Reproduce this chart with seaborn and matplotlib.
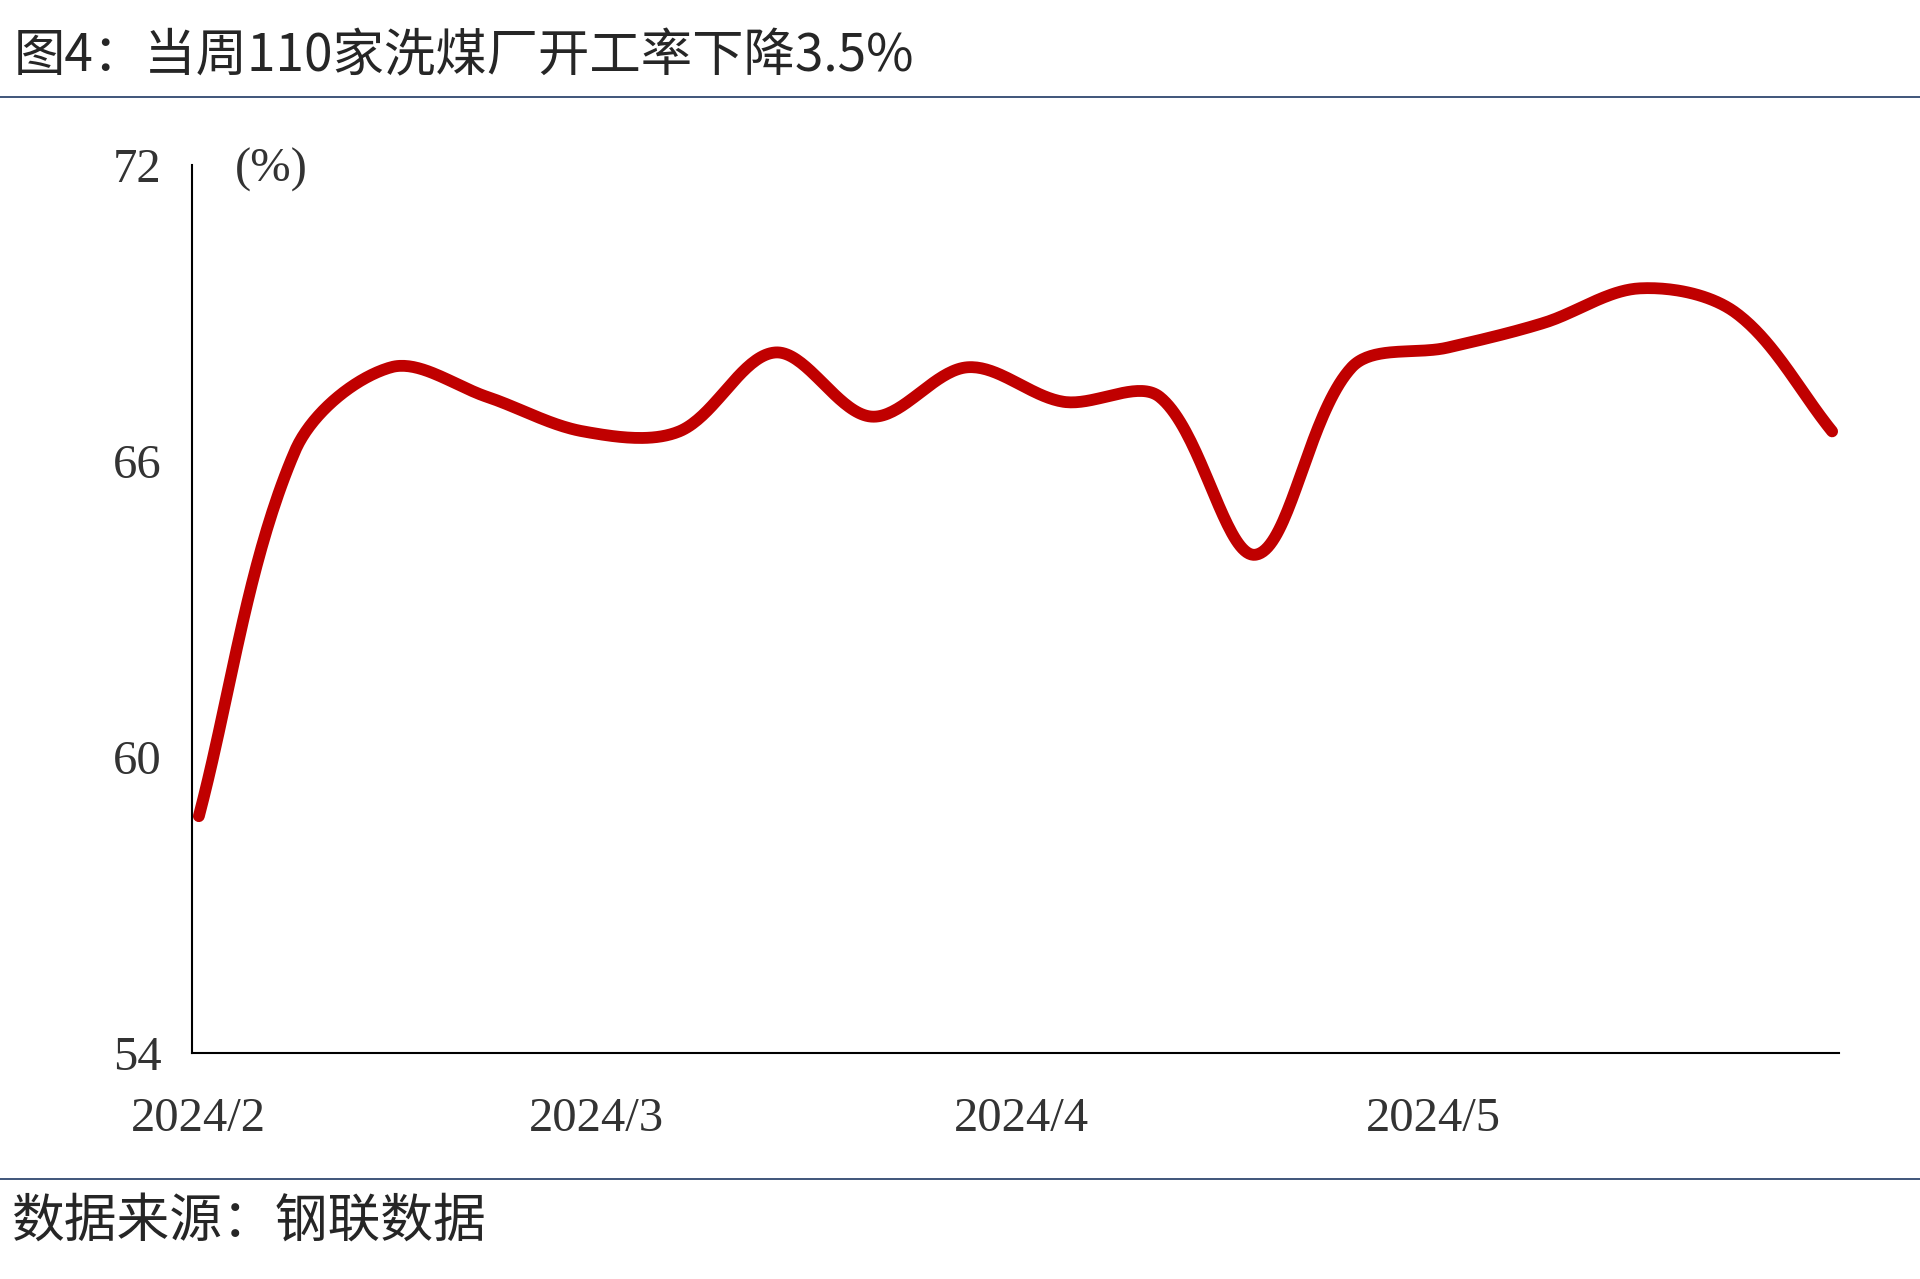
import numpy as np
import pandas as pd
import seaborn as sns
import matplotlib.pyplot as plt
import matplotlib.dates as mdates
import matplotlib.transforms as mtrans
from matplotlib.lines import Line2D

# weekly data, 110 coal washing plants operating rate (%)
dates = pd.date_range('2024-02-01', periods=18, freq='7D')
rate = [58.8, 66.2, 67.9, 67.3, 66.6, 66.6, 68.2, 66.9, 67.9,
        67.2, 67.3, 64.1, 67.9, 68.3, 68.8, 69.5, 69.0, 66.6]
month_ticks = pd.to_datetime(['2024-02-01', '2024-03-01', '2024-04-01', '2024-05-01'])
month_labels = ['2024/2', '2024/3', '2024/4', '2024/5']
y_ticks = [54, 60, 66, 72]

title = '图4：当周110家洗煤厂开工率下降3.5%'
source = '数据来源：钢联数据'


def smooth(pts, n=40, t=1/3):
    # bezier smoothing in screen space, roughly what excel's "smoothed line" does
    p = np.vstack([pts[0], pts, pts[-1]])
    out = []
    for i in range(1, len(p)-2):
        p0, p1, p2, p3 = p[i-1], p[i], p[i+1], p[i+2]
        d01, d12, d23 = [np.hypot(*(b-a)) for a, b in ((p0, p1), (p1, p2), (p2, p3))]
        c1 = p1 + t*(p2-p0)*d12/(d01+d12)
        c2 = p2 - t*(p3-p1)*d12/(d12+d23)
        s = np.linspace(0, 1, n, endpoint=False)[:, None]
        out.append((1-s)**3*p1 + 3*(1-s)**2*s*c1 + 3*(1-s)*s**2*c2 + s**3*p2)
    out.append(pts[-1:])
    return np.vstack(out)


sns.set_theme(style='white')
plt.rcParams['font.family'] = ['Noto Sans CJK SC', 'DejaVu Sans']

fig = plt.figure(figsize=(19.2, 12.79), dpi=100)
ax = fig.add_axes([192/1920, 1-1053/1279, (1839-192)/1920, (1053-165)/1279])
ax.set_xlim(mdates.date2num(pd.Timestamp('2024-02-01')), mdates.date2num(pd.Timestamp('2024-05-31')))
ax.set_ylim(54, 72)

xnum = mdates.date2num(dates) + 0.5  # points sit mid-day like excel date axis
scr = ax.transData.transform(np.column_stack([xnum, rate]))
curve = ax.transData.inverted().transform(smooth(scr))
df = pd.DataFrame({'x': curve[:, 0], 'y': curve[:, 1]})
sns.lineplot(data=df, x='x', y='y', sort=False, estimator=None, ax=ax,
             color='#C00000', linewidth=8.5, solid_capstyle='round')

ax.set_xlim(mdates.date2num(pd.Timestamp('2024-02-01')), mdates.date2num(pd.Timestamp('2024-05-31')))
ax.set_ylim(54, 72)
ax.set_yticks(y_ticks)
ax.set_yticklabels([str(v) for v in y_ticks], family='Liberation Serif', fontsize=35, color='#333333')
ax.set_xticks(mdates.date2num(month_ticks))
ax.set_xticklabels(month_labels, family='Liberation Serif', fontsize=35, color='#333333')
ax.tick_params(axis='both', direction='in', length=20, width=1.5, color='black')
ax.tick_params(axis='y', pad=22)
ax.tick_params(axis='x', pad=32)
shift = mtrans.ScaledTranslation(0.06, 0, fig.dpi_scale_trans)
for lab in ax.get_xticklabels():
    lab.set_transform(lab.get_transform() + shift)
ax.set_xlabel(''); ax.set_ylabel('')
for s in ['top', 'right']:
    ax.spines[s].set_visible(False)
for s in ['left', 'bottom']:
    ax.spines[s].set_color('black')
    ax.spines[s].set_linewidth(1.5)
ax.text(0.026, 0.994, '(%)', transform=ax.transAxes, family='Liberation Serif',
        fontsize=35, color='#333333', va='center', ha='left')

fig.text(14/1920, 1-57/1279, title, fontsize=37, va='center', ha='left')
fig.text(12/1920, 1-1221/1279, source, fontsize=38, va='center', ha='left')
fig.add_artist(Line2D([0, 1], [1-97/1279]*2, color='#1F3864', linewidth=1.2, transform=fig.transFigure))
fig.add_artist(Line2D([0, 1], [1-1179/1279]*2, color='#1F3864', linewidth=1.2, transform=fig.transFigure))

fig.savefig('out.png', dpi=100, facecolor='white')
